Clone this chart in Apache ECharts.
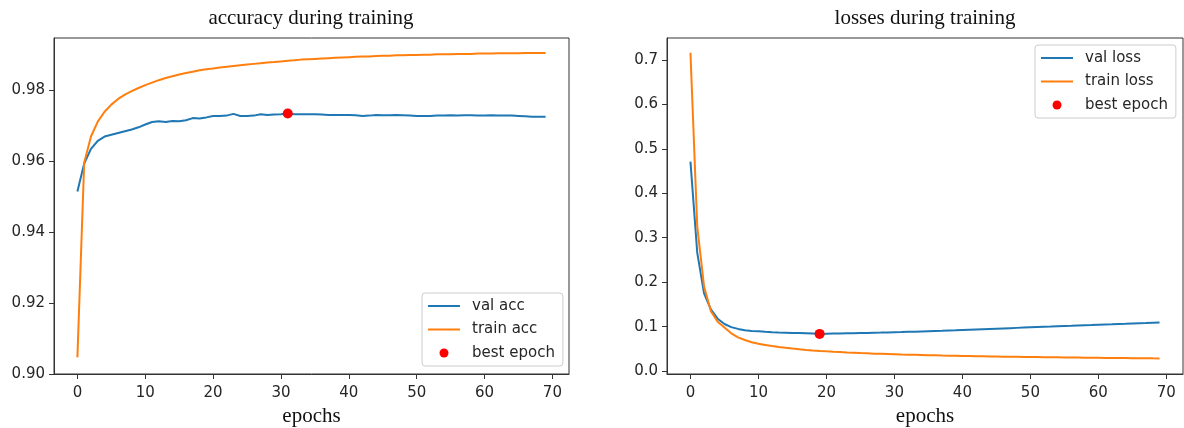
<!DOCTYPE html>
<html>
<head>
<meta charset="utf-8">
<script src="https://cdn.jsdelivr.net/npm/echarts@6/dist/echarts.min.js"></script>
<style>
html,body{margin:0;padding:0;background:#fff;}
#chart{width:1184px;height:428px;}
</style>
</head>
<body>
<div id="chart"></div>
<script>
// ---- data ----
const epochs = [0,1,2,3,4,5,6,7,8,9,10,11,12,13,14,15,16,17,18,19,20,21,22,23,24,25,26,27,28,29,30,31,32,33,34,35,36,37,38,39,40,41,42,43,44,45,46,47,48,49,50,51,52,53,54,55,56,57,58,59,60,61,62,63,64,65,66,67,68,69];

const valAcc = [0.9515,0.9594,0.9635,0.9658,0.9670,0.9675,0.9680,0.9685,0.9690,0.9696,0.9704,0.9711,0.9713,0.9711,0.9714,0.9713,0.9716,0.9722,0.9721,0.9724,0.9728,0.9728,0.9729,0.9734,0.9728,0.9728,0.9729,0.9733,0.9731,0.9732,0.9733,0.9735,0.9733,0.9733,0.9733,0.9733,0.9732,0.9731,0.9731,0.9731,0.9731,0.9730,0.9728,0.9729,0.9731,0.9730,0.9730,0.9731,0.9730,0.9729,0.9728,0.9728,0.9728,0.9729,0.9729,0.9730,0.9729,0.9730,0.9730,0.9729,0.9729,0.9730,0.9729,0.9729,0.9729,0.9728,0.9727,0.9726,0.9726,0.9726];

const trainAcc = [0.9047,0.9596,0.9670,0.9712,0.9740,0.9760,0.9776,0.9788,0.9798,0.9807,0.9815,0.9822,0.9829,0.9835,0.9840,0.9845,0.9849,0.9853,0.9857,0.9860,0.9862,0.9865,0.9867,0.9869,0.9871,0.9873,0.9875,0.9877,0.9879,0.9880,0.9882,0.9884,0.9885,0.9887,0.9888,0.9889,0.9890,0.9891,0.9892,0.9893,0.9894,0.9895,0.9896,0.9896,0.9897,0.9898,0.9898,0.9899,0.9899,0.9900,0.9900,0.9901,0.9901,0.9902,0.9902,0.9902,0.9903,0.9903,0.9903,0.9904,0.9904,0.9904,0.9905,0.9905,0.9905,0.9905,0.9906,0.9906,0.9906,0.9906];

const valLoss = [0.471,0.266,0.175,0.139,0.118,0.106,0.099,0.095,0.092,0.0905,0.0895,0.0885,0.0877,0.0870,0.0865,0.0860,0.0856,0.0852,0.0847,0.0838,0.0842,0.0845,0.0848,0.0851,0.0854,0.0857,0.0860,0.0864,0.0867,0.0871,0.0875,0.0879,0.0884,0.0888,0.0893,0.0898,0.0903,0.0908,0.0914,0.0919,0.0925,0.0931,0.0937,0.0943,0.0949,0.0955,0.0961,0.0967,0.0973,0.0979,0.0985,0.0991,0.0997,0.1002,0.1008,0.1014,0.1019,0.1025,0.1031,0.1036,0.1042,0.1048,0.1053,0.1059,0.1064,0.1070,0.1076,0.1081,0.1087,0.1093];

const trainLoss = [0.716,0.325,0.190,0.135,0.111,0.098,0.085,0.076,0.070,0.065,0.0615,0.059,0.0565,0.0543,0.0524,0.0507,0.0492,0.0478,0.0466,0.0455,0.0445,0.0436,0.0428,0.0420,0.0413,0.0406,0.0400,0.0394,0.0389,0.0384,0.0379,0.0374,0.0370,0.0366,0.0362,0.0358,0.0355,0.0351,0.0348,0.0345,0.0342,0.0339,0.0336,0.0334,0.0331,0.0329,0.0326,0.0324,0.0322,0.0320,0.0318,0.0316,0.0314,0.0312,0.0310,0.0308,0.0306,0.0305,0.0303,0.0301,0.0300,0.0298,0.0297,0.0295,0.0294,0.0292,0.0291,0.0290,0.0288,0.0287];

const bestAccEpoch = 31;
const bestLossEpoch = 19;

const xTicks = [0,10,20,30,40,50,60,70];
const accTicks = [0.90,0.92,0.94,0.96,0.98];
const lossTicks = [0.0,0.1,0.2,0.3,0.4,0.5,0.6,0.7];

// ---- chart ----
const BLUE = '#1f77b4', ORANGE = '#ff7f0e', RED = '#ff0000';
const TXT = '#262626', AX = '#333333';
const pairs = arr => epochs.map((e,i)=>[e,arr[i]]);
const HIDE = {color:'rgba(0,0,0,0)', borderColor:'rgba(0,0,0,0)', borderWidth:0};

function xAxisCfg(gi){
  return {
    type:'value', gridIndex:gi, min:-3.45, max:72.45,
    name:'epochs', nameLocation:'middle', nameGap:30,
    nameTextStyle:{fontFamily:'Liberation Serif', fontSize:21, color:'#111'},
    axisLine:{show:true, onZero:false, lineStyle:{color:AX, width:1}},
    axisTick:{show:true, length:5, lineStyle:{color:AX}, customValues:xTicks},
    axisLabel:{fontFamily:'DejaVu Sans', fontSize:15, color:TXT, margin:12, customValues:xTicks},
    splitLine:{show:false}
  };
}
function yAxisCfg(gi,min,max,ticks,dec){
  return {
    type:'value', gridIndex:gi, min:min, max:max,
    axisLine:{show:true, onZero:false, lineStyle:{color:AX, width:1}},
    axisTick:{show:true, length:5, lineStyle:{color:AX}, customValues:ticks},
    axisLabel:{fontFamily:'DejaVu Sans', fontSize:15, color:TXT, margin:9, customValues:ticks,
      formatter:v=>Number(v).toFixed(dec)},
    splitLine:{show:false}
  };
}
const legendBase = {
  orient:'vertical', itemWidth:32, itemHeight:9, itemGap:7.5,
  padding:[5,8,5,5], backgroundColor:'#fff', borderColor:'#cccccc', borderWidth:1, borderRadius:3,
  textStyle:{fontFamily:'DejaVu Sans', fontSize:15, color:TXT, lineHeight:16, padding:[0,0,0,7]},
  selectedMode:false
};
const DOT = {color:RED, opacity:1};

const chart = echarts.init(document.getElementById('chart'), null, {renderer:'canvas'});
chart.setOption({
  animation:false,
  backgroundColor:'#ffffff',
  title:[
    {text:'accuracy during training', left:311, top:18, textAlign:'center', textVerticalAlign:'middle', padding:0,
     textStyle:{fontFamily:'Liberation Serif', fontSize:21, fontWeight:'normal', color:'#111'}},
    {text:'losses during training', left:925, top:18, textAlign:'center', textVerticalAlign:'middle', padding:0,
     textStyle:{fontFamily:'Liberation Serif', fontSize:21, fontWeight:'normal', color:'#111'}}
  ],
  grid:[
    {left:54, top:38, width:515, height:336, show:true, borderColor:AX, borderWidth:1, backgroundColor:'transparent',
     containLabel:false, outerBoundsMode:'none'},
    {left:667, top:38, width:516, height:336, show:true, borderColor:AX, borderWidth:1, backgroundColor:'transparent',
     containLabel:false, outerBoundsMode:'none'}
  ],
  xAxis:[xAxisCfg(0), xAxisCfg(1)],
  yAxis:[yAxisCfg(0,0.9,0.9948,accTicks,2), yAxisCfg(1,-0.0064,0.749,lossTicks,1)],
  legend:[
    Object.assign({}, legendBase, {left:422, top:293, data:[
      {name:'val acc', itemStyle:HIDE},
      {name:'train acc', itemStyle:HIDE},
      {name:'best epoch', icon:'circle', itemStyle:DOT}]}),
    Object.assign({}, legendBase, {left:1035, top:45, data:[
      {name:'val loss', itemStyle:HIDE},
      {name:'train loss', itemStyle:HIDE},
      {name:'best epoch', icon:'circle', itemStyle:DOT}]})
  ],
  series:[
    {name:'val acc', type:'line', xAxisIndex:0, yAxisIndex:0, data:pairs(valAcc), symbol:'none', lineStyle:{color:BLUE, width:2}, itemStyle:{color:BLUE}},
    {name:'train acc', type:'line', xAxisIndex:0, yAxisIndex:0, data:pairs(trainAcc), symbol:'none', lineStyle:{color:ORANGE, width:2}, itemStyle:{color:ORANGE}},
    {name:'best epoch', type:'scatter', xAxisIndex:0, yAxisIndex:0, data:[[bestAccEpoch, valAcc[bestAccEpoch]]], symbol:'circle', symbolSize:10, itemStyle:DOT, z:5},
    {name:'val loss', type:'line', xAxisIndex:1, yAxisIndex:1, data:pairs(valLoss), symbol:'none', lineStyle:{color:BLUE, width:2}, itemStyle:{color:BLUE}},
    {name:'train loss', type:'line', xAxisIndex:1, yAxisIndex:1, data:pairs(trainLoss), symbol:'none', lineStyle:{color:ORANGE, width:2}, itemStyle:{color:ORANGE}},
    {name:'best epoch', type:'scatter', xAxisIndex:1, yAxisIndex:1, data:[[bestLossEpoch, valLoss[bestLossEpoch]]], symbol:'circle', symbolSize:10, itemStyle:DOT, z:5}
  ]
});
</script>
</body>
</html>
